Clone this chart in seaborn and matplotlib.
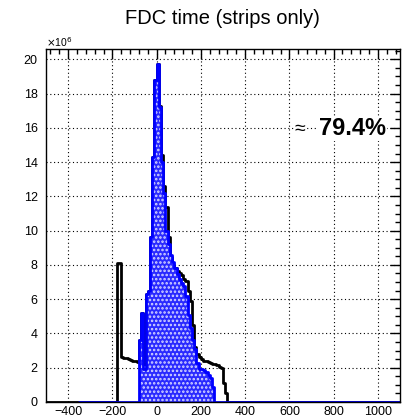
import numpy as np
import pandas as pd
import matplotlib
matplotlib.use("Agg")
import matplotlib.pyplot as plt
import seaborn as sns
from matplotlib.ticker import MultipleLocator

# Histogram binning (ns)
BIN_WIDTH = 10
X_MAX = 1100
all_hits_range_start = -500
strip_hits_range_start = -350

# Hit counts per 10 ns bin, in units of 10^6, starting at the first filled bin
all_hits_first_bin = -180
all_hits = [
    8.1, 8.1, 2.6, 2.58, 2.55, 2.5, 2.45, 2.42, 2.38, 2.33,      # -180 .. -90
    3.6, 5.2, 2.2, 6.3, 6.5, 9.6, 14.3, 18.8, 19.7, 17.3,        # -80 .. 10
    14.4, 12.6, 11.4, 9.6, 8.45, 8.0, 7.8, 7.65, 7.55, 7.4,      # 20 .. 110
    7.2, 7.05, 6.5, 5.9, 4.5, 3.2, 2.8, 2.6, 2.5, 2.42,          # 120 .. 210
    2.38, 2.33, 2.28, 2.24, 2.2, 2.15, 2.05, 2.0, 1.1, 0.55,     # 220 .. 310
]

strip_hits_first_bin = -80
strip_hits = [
    3.6, 5.2, 1.9, 6.3, 6.5, 9.6, 14.3, 18.8, 19.7, 17.2,        # -80 .. 10
    14.0, 12.2, 10.0, 9.2, 8.55, 8.16, 7.8, 7.45, 7.15, 6.95,    # 20 .. 110
    6.75, 6.2, 5.1, 4.3, 3.6, 3.1, 2.3, 1.95, 1.9, 1.85,         # 120 .. 210
    1.75, 1.6, 1.4, 0.85,                                        # 220 .. 250
]

fraction_label = "79.4%"
title = "FDC time (strips only)"


def full_histogram(range_start, first_bin, counts):
    edges = np.arange(range_start, X_MAX + BIN_WIDTH, BIN_WIDTH)
    heights = np.zeros(len(edges) - 1)
    i0 = (first_bin - range_start) // BIN_WIDTH
    heights[i0:i0 + len(counts)] = counts
    centers = edges[:-1] + BIN_WIDTH / 2
    return pd.DataFrame({"time": centers, "hits": heights})


sns.set_style("white")
plt.rcParams["font.family"] = ["Liberation Sans", "DejaVu Sans"]
plt.rcParams["text.color"] = "black"
plt.rcParams["hatch.linewidth"] = 1.2

fig = plt.figure(figsize=(4.03, 4.18), dpi=100)
ax = fig.add_axes([46 / 403, 1 - 402 / 418, 354 / 403, 353 / 418])

df_all = full_histogram(all_hits_range_start, all_hits_first_bin, all_hits)
df_str = full_histogram(strip_hits_range_start, strip_hits_first_bin, strip_hits)

common = dict(x="time", weights="hits", binwidth=BIN_WIDTH, element="step", ax=ax)
sns.histplot(data=df_all, binrange=(all_hits_range_start, X_MAX), fill=False,
             color="black", linewidth=2.0, zorder=2, **common)
sns.histplot(data=df_str, binrange=(strip_hits_range_start, X_MAX), fill=True,
             facecolor="#2a2aff", edgecolor="#d8d8ff", linewidth=0, hatch="....",
             zorder=3, **common)
sns.histplot(data=df_str, binrange=(strip_hits_range_start, X_MAX), fill=False,
             color="#0000ff", linewidth=2.0, zorder=4, **common)

ax.set_xlim(-500, 1100)
ax.set_ylim(0, 20.6)
ax.set_xlabel("")
ax.set_ylabel("")

ax.xaxis.set_major_locator(MultipleLocator(200))
ax.xaxis.set_minor_locator(MultipleLocator(40))
ax.yaxis.set_major_locator(MultipleLocator(2))
ax.yaxis.set_minor_locator(MultipleLocator(0.5))
ax.tick_params(which="both", direction="in", top=True, right=True, colors="black",
               labelcolor="black", labelsize=9, width=1)
ax.tick_params(which="major", length=7)
ax.tick_params(which="minor", length=3.5)
ax.tick_params(axis="x", pad=3)
ax.tick_params(axis="y", pad=6)
ax.xaxis.set_major_formatter(lambda v, p: f"{int(round(v))}".replace("-", "\u2212"))
ax.yaxis.set_major_formatter(lambda v, p: f"{int(round(v))}")

ax.grid(True, which="major", color="black", linestyle=(0, (1, 2.4)), linewidth=0.8)
ax.set_axisbelow(False)
for gl in ax.get_xgridlines() + ax.get_ygridlines():
    gl.set_zorder(5)

for s in ax.spines.values():
    s.set_color("black")
    s.set_linewidth(1.0)
    s.set_zorder(6)

fig.text(222 / 403, 1 - 19 / 418, title, ha="center", va="center", fontsize=14.5,
         color="black")
fig.text(46 / 403, 1 - 42 / 418, r"$\times$10$^{6}$", ha="left", va="center",
         fontsize=7.5, color="black")
ax.text((300 - 46) / 354, 0.772, "\u2248", transform=ax.transAxes, ha="center",
        va="center", fontsize=14, color="black",
        bbox=dict(facecolor="white", edgecolor="none", pad=0.2))
ax.text((386 - 46) / 354, 0.775, fraction_label, transform=ax.transAxes, ha="right",
        va="center", fontsize=17, fontweight="bold", color="black",
        bbox=dict(facecolor="white", edgecolor="none", pad=0.5))

fig.savefig("out.png", dpi=100)
